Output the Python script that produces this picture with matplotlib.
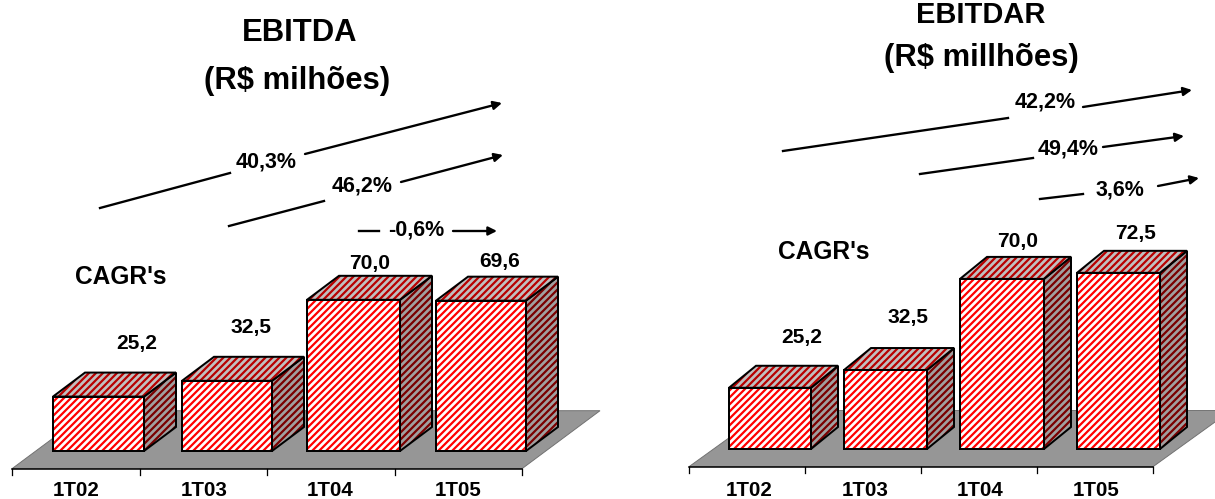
import matplotlib
matplotlib.use("Agg")
import matplotlib.pyplot as plt
from matplotlib.patches import Polygon

W, H = 1215, 499
DPI = 84

plt.rcParams['font.family'] = ['Liberation Sans', 'DejaVu Sans']
plt.rcParams['font.weight'] = 'bold'
plt.rcParams['hatch.linewidth'] = 1.9

# ---- data ----
quarters = ["1T02", "1T03", "1T04", "1T05"]
ebitda = [25.2, 32.5, 70.0, 69.6]
ebitdar = [25.2, 32.5, 70.0, 72.5]
cagrEbitda = ["40,3%", "46,2%", "-0,6%"]
cagrEbitdar = ["42,2%", "49,4%", "3,6%"]


def pt(px):
    return px * 72 / DPI


fig = plt.figure(figsize=(W / DPI, H / DPI), dpi=DPI)


def figtext(x, y, s, size):
    fig.text(x / W, 1 - y / H, s, fontsize=pt(size), ha="center", va="center",
             fontweight="bold", color="black")


def trend(seg1, seg2, label, pos):
    # two pieces of one arrow with the CAGR label in the gap
    overlay.plot([seg1[0], seg1[2]], [seg1[1], seg1[3]], color="black", lw=2.0)
    overlay.annotate("", xy=(seg2[2], seg2[3]), xytext=(seg2[0], seg2[1]),
                     arrowprops=dict(arrowstyle="-|>", color="black", lw=2.0,
                                     mutation_scale=15, shrinkA=0, shrinkB=0))
    overlay.text(pos[0], pos[1], label, fontsize=pt(21.5), ha="center", va="center", fontweight="bold")


def box(ax, x0, x1, val, dx, dy):
    # front, top and side of one 3D bar
    front = [(x0, 0), (x1, 0), (x1, val), (x0, val)]
    top = [(x0, val), (x1, val), (x1 + dx, val + dy), (x0 + dx, val + dy)]
    side = [(x1, 0), (x1 + dx, dy), (x1 + dx, val + dy), (x1, val)]
    for pts, face, stripe in [(side, "#a0a0a0", "#7a0000"), (top, "#c0c0c0", "#b80000"), (front, "white", "#ff0000")]:
        ax.add_patch(Polygon(pts, closed=True, facecolor=face, edgecolor=stripe, hatch="////", lw=0, clip_on=False))
        ax.add_patch(Polygon(pts, closed=True, fill=False, edgecolor="black", lw=1.7, clip_on=False, joinstyle="miter"))


def panel(values, left, right, front, base, scale, floorBack, depthPx, floorDepth, edges):
    # axes spans the front edge of the floor: x in category slots, y in R$ millions
    ax = fig.add_axes([left / W, 1 - front / H, (right - left) / W, front / H])
    slot = (right - left) / len(values)
    ax.set_xlim(0, len(values))
    ax.set_ylim(-(front - base) / scale, base / scale)
    ax.axis("off")
    yFront = -(front - base) / scale
    yBack = (base - floorBack) / scale
    fx = floorDepth / slot
    n = len(values)
    ax.add_patch(Polygon([(0, yFront), (n, yFront), (n + fx, yBack), (fx, yBack)], closed=True,
                         facecolor="#969696", edgecolor="#707070", lw=0.8, clip_on=False))
    ax.plot([0, n], [yFront, yFront], color="black", lw=1.3, clip_on=False)
    for i in range(n + 1):
        ax.plot([i, i], [yFront, yFront - 6 / scale], color="black", lw=1.1, clip_on=False)
    for i, v in enumerate(values):
        x0 = (edges[i][0] - left) / slot
        x1 = (edges[i][1] - left) / slot
        box(ax, x0, x1, v, depthPx[0] / slot, depthPx[1] / scale)
    return ax


panel(ebitda, 12, 522, 468.7, 451, 2.16, 410.7, (32, 24), 78,
      [(53, 144), (182, 272), (307, 400), (436, 526)])
panel(ebitdar, 689, 1153, 466.7, 449, 2.43, 410.5, (27, 22), 78,
      [(729, 811), (844, 927), (960, 1044), (1077, 1160)])

# overlay in pixel coordinates for the arrows
overlay = fig.add_axes([0, 0, 1, 1], facecolor="none")
overlay.set_xlim(0, W)
overlay.set_ylim(H, 0)
overlay.axis("off")

trend((100, 208, 230, 173), (305, 154, 502, 103), cagrEbitda[0], (266, 162))
trend((229, 226, 324, 201), (401, 182, 503, 155), cagrEbitda[1], (362, 186))
trend((359, 231, 379, 231), (453, 231, 497, 231), cagrEbitda[2], (416, 230))
trend((783, 151, 1008, 118), (1083, 107, 1192, 90), cagrEbitdar[0], (1045, 102))
trend((920, 174, 1033, 158), (1103, 147, 1184, 136), cagrEbitdar[1], (1068, 149))
trend((1040, 199, 1083, 194), (1158, 186, 1199, 178), cagrEbitdar[2], (1120, 190))

# titles
figtext(300, 33, "EBITDA", 31)
figtext(297, 81, "(R$ milhões)", 31)
figtext(981, 15, "EBITDAR", 29)
figtext(981, 58, "(R$ millhões)", 31)
figtext(121, 277, "CAGR's", 24.5)
figtext(824, 252, "CAGR's", 24.5)

# value labels
leftPos = [(137, 344), (251, 328), (370, 263), (500, 261)]
rightPos = [(802, 337), (908, 318), (1018, 242), (1136, 234)]
for v, p in zip(ebitda, leftPos):
    figtext(p[0], p[1], f"{v:.1f}".replace(".", ","), 21)
for v, p in zip(ebitdar, rightPos):
    figtext(p[0], p[1], f"{v:.1f}".replace(".", ","), 21)

# category labels
for q, x in zip(quarters, [76, 204, 330, 458]):
    figtext(x, 490, q, 20.5)
for q, x in zip(quarters, [749, 865, 980, 1096]):
    figtext(x, 490, q, 20.5)

fig.savefig("out.png", dpi=DPI, facecolor="white")
